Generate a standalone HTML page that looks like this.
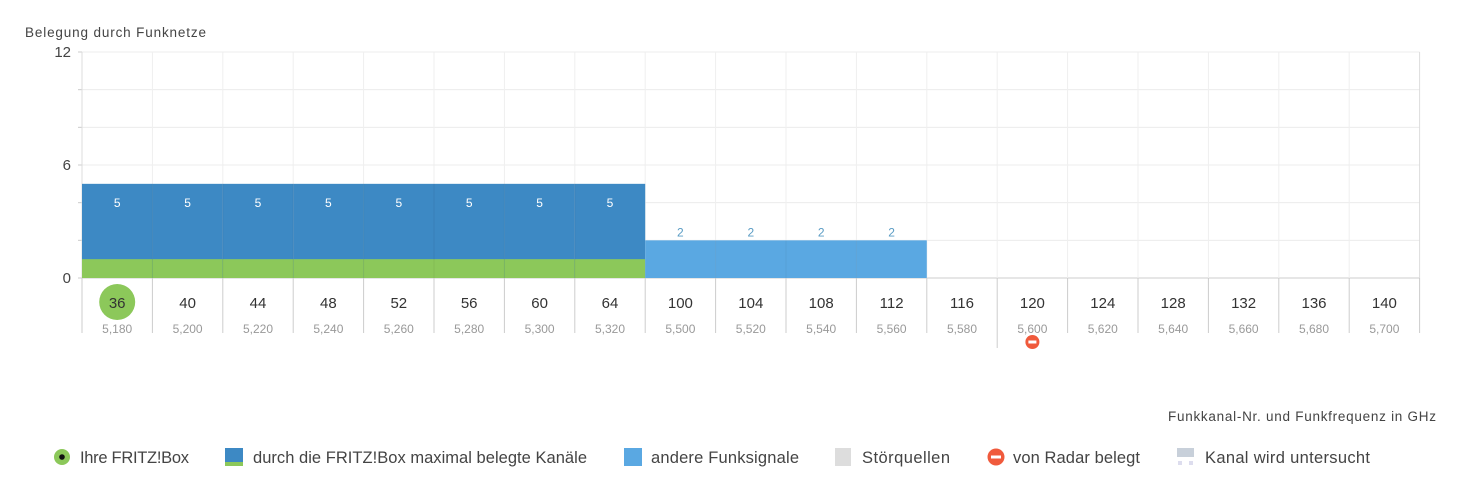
<!DOCTYPE html>
<html><head><meta charset="utf-8"><style>
html,body{margin:0;padding:0;background:#fff;}
svg{display:block;font-family:"Liberation Sans",sans-serif;}
</style></head><body>
<svg id="c" width="1461" height="485" viewBox="0 0 1461 485">
<text x="25" y="37" font-size="13.5" fill="#444" textLength="181">Belegung durch Funknetze</text>
<text x="1436" y="421" font-size="13.5" fill="#444" text-anchor="end" textLength="268">Funkkanal-Nr. und Funkfrequenz in GHz</text>
<g id="grid"></g><g id="bars"></g><g id="axis"></g>
<g font-size="16.5" fill="#444">
 <g><circle cx="62" cy="457" r="8" fill="#8cc85a"/><circle cx="62" cy="457" r="2.8" fill="#111"/><text x="80" y="463" textLength="109">Ihre FRITZ!Box</text></g>
 <g><rect x="225" y="448" width="18" height="14" fill="#3d89c4"/><rect x="225" y="462" width="18" height="4" fill="#8cc85a"/><text x="253" y="463" textLength="334">durch die FRITZ!Box maximal belegte Kanäle</text></g>
 <g><rect x="624" y="448" width="18" height="18" fill="#5aa8e2"/><text x="651" y="463" textLength="148">andere Funksignale</text></g>
 <g><rect x="835" y="448" width="16" height="18" fill="#ddd"/><text x="862" y="463" textLength="88">Störquellen</text></g>
 <g><circle cx="996" cy="457" r="8.5" fill="#f05a3c"/><rect x="991" y="455.5" width="10" height="3" fill="#fff"/><text x="1013" y="463" textLength="127">von Radar belegt</text></g>
 <g><rect x="1177" y="448" width="17" height="9" fill="#c8d0da"/><rect x="1178" y="461" width="4" height="4" fill="#dde"/><rect x="1189" y="461" width="4" height="4" fill="#dde"/><text x="1205" y="463" textLength="165">Kanal wird untersucht</text></g>
</g>
</svg>
<script>
const channels=["36","40","44","48","52","56","60","64","100","104","108","112","116","120","124","128","132","136","140"];
const freqs=["5,180","5,200","5,220","5,240","5,260","5,280","5,300","5,320","5,500","5,520","5,540","5,560","5,580","5,600","5,620","5,640","5,660","5,680","5,700"];
const fritzValues=[5,5,5,5,5,5,5,5,0,0,0,0,0,0,0,0,0,0,0];
const otherValues=[0,0,0,0,0,0,0,0,2,2,2,2,0,0,0,0,0,0,0];
const yTicks=[0,6,12];
const fritzChannel="36";
const radarChannels=["120"];
const NS="http://www.w3.org/2000/svg";
const X0=82,CW=70.4,YB=278,YT=52,YMAX=12;
const x=i=>X0+i*CW;
const y=v=>YB-(v/YMAX)*(YB-YT);
function mk(p,t,a){const e=document.createElementNS(NS,t);for(const k in a)e.setAttribute(k,a[k]);p.appendChild(e);return e;}
const grid=document.getElementById('grid'),bars=document.getElementById('bars'),axis=document.getElementById('axis');
const XR=x(channels.length);
for(let v=0;v<=YMAX;v+=2){const l=mk(grid,'line',{x1:X0,x2:XR,y1:y(v),y2:y(v),stroke:v===0?'#ccc':'#ececec'});


mk(grid,'line',{x1:X0-4,x2:X0,y1:y(v),y2:y(v),stroke:'#ccc'});}
for(let i=0;i<=channels.length;i++){mk(grid,'line',{x1:x(i),x2:x(i),y1:YT,y2:YB,stroke:i===0||i===channels.length?'#ddd':'#efefef'});}
yTicks.forEach(v=>{const t=mk(axis,'text',{x:71,y:y(v)+5,'font-size':15,fill:'#444','text-anchor':'end'});t.textContent=v;

});
channels.forEach((c,i)=>{
 const cx=x(i)+CW/2;
 if(fritzValues[i]>0){const r=mk(bars,'rect',{x:x(i),y:y(fritzValues[i]),width:CW,height:y(0)-y(fritzValues[i]),fill:'#3d89c4'});
 
 
 mk(bars,'rect',{x:x(i),y:y(1),width:CW,height:y(0)-y(1),fill:'#8cc85a'});
 if(i>0)mk(bars,'line',{x1:x(i),x2:x(i),y1:y(fritzValues[i]),y2:y(0),stroke:'rgba(0,0,0,0.06)'});
 const t=mk(bars,'text',{x:cx,y:y(fritzValues[i])+23,'font-size':12,fill:'#fff','text-anchor':'middle'});t.textContent=fritzValues[i];}
 if(otherValues[i]>0){const r=mk(bars,'rect',{x:x(i),y:y(otherValues[i]),width:CW,height:y(0)-y(otherValues[i]),fill:'#5aa8e2'});
 
 
 if(i>0&&otherValues[i-1]>0)mk(bars,'line',{x1:x(i),x2:x(i),y1:y(otherValues[i]),y2:y(0),stroke:'rgba(0,0,0,0.05)'});
 const t=mk(bars,'text',{x:cx,y:y(otherValues[i])-4,'font-size':12,fill:'#5a9cc4','text-anchor':'middle'});t.textContent=otherValues[i];}
 const isRadar=radarChannels.includes(c);
 mk(axis,'line',{x1:x(i),x2:x(i),y1:YB,y2:isRadar?348:333,stroke:'#ccc'});
 if(c===fritzChannel){const g=mk(axis,'circle',{cx:cx,cy:302,r:18,fill:'#8cc85a'});
 
 }
 const t=mk(axis,'text',{x:cx,y:308,'font-size':15,fill:'#333','text-anchor':'middle'});t.textContent=c;
 
 
 const f=mk(axis,'text',{x:cx,y:333,'font-size':12,fill:'#999','text-anchor':'middle'});f.textContent=freqs[i];
 
 
 if(isRadar){const r=mk(axis,'circle',{cx:cx,cy:342,r:7,fill:'#f05a3c'});
 
 
 mk(axis,'rect',{x:cx-4,y:340.5,width:8,height:3,fill:'#fff'});}
});
mk(axis,'line',{x1:XR,x2:XR,y1:YB,y2:333,stroke:'#ccc'});
</script>
</body></html>
